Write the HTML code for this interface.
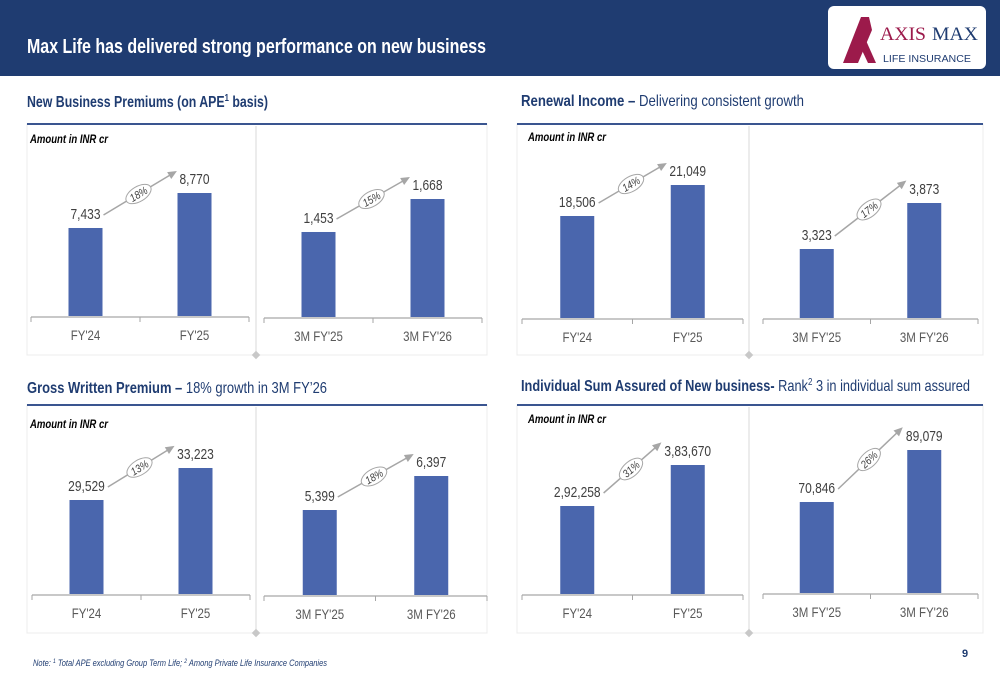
<!DOCTYPE html>
<html><head><meta charset="utf-8">
<style>
html,body{margin:0;padding:0;background:#fff;}
svg{display:block;font-family:"Liberation Sans Narrow","Liberation Sans",sans-serif;}
</style></head>
<body>
<svg id="s" width="1000" height="685" viewBox="0 0 1000 685" xmlns="http://www.w3.org/2000/svg">
  <rect x="0" y="0" width="1000" height="76" fill="#1f3c71"/>
  <text x="27" y="53" fill="#fff" font-size="20" font-weight="bold" textLength="459" lengthAdjust="spacingAndGlyphs">Max Life has delivered strong performance on new business</text>
  <g>
    <rect x="828" y="6" width="158" height="63" rx="6" fill="#fff"/>
    <polygon points="843,63 861,17 869,17 872,30 858,63" fill="#9c1a4b"/>
    <polygon points="864,36 876,63 868,63 860,46" fill="#9c1a4b"/>
    <text x="880" y="40" font-family="Liberation Serif,serif" font-size="19" fill="#9c1a4b" textLength="46" lengthAdjust="spacingAndGlyphs">AXIS</text>
    <text x="932" y="40" font-family="Liberation Serif,serif" font-size="19" fill="#1f3c71" textLength="46" lengthAdjust="spacingAndGlyphs">MAX</text>
    <text x="883" y="62" font-family="Liberation Sans,sans-serif" font-size="10" fill="#1f3c71" textLength="88" lengthAdjust="spacingAndGlyphs">LIFE INSURANCE</text>
  </g>
  <text x="27" y="107" fill="#1f3c71" font-size="16" font-weight="bold" textLength="241" lengthAdjust="spacingAndGlyphs">New Business Premiums (on APE<tspan font-size="10" dy="-6">1</tspan><tspan dy="6"> basis)</tspan></text>
  <text x="521" y="106" fill="#1f3c71" font-size="16" textLength="283" lengthAdjust="spacingAndGlyphs"><tspan font-weight="bold">Renewal Income –</tspan> Delivering consistent growth</text>
  <text x="27" y="393" fill="#1f3c71" font-size="16" textLength="300" lengthAdjust="spacingAndGlyphs"><tspan font-weight="bold">Gross Written Premium –</tspan> 18% growth in 3M FY’26</text>
  <text x="521" y="391" fill="#1f3c71" font-size="16" textLength="449" lengthAdjust="spacingAndGlyphs"><tspan font-weight="bold">Individual Sum Assured of New business-</tspan> Rank<tspan font-size="10" dy="-6">2</tspan><tspan dy="6"> 3 in individual sum assured</tspan></text>
  <text x="33" y="666" fill="#1f3c71" font-size="9" font-style="italic" textLength="294" lengthAdjust="spacingAndGlyphs">Note: <tspan font-size="6" dy="-3">1</tspan><tspan dy="3"> Total APE excluding Group Term Life; </tspan><tspan font-size="6" dy="-3">2</tspan><tspan dy="3"> Among Private Life Insurance Companies</tspan></text>
  <text x="962" y="657" fill="#1f3c71" font-size="11" font-weight="bold">9</text>
  <g id="charts"></g>
</svg>
<script>
// Data arrays
const catsFY = ["FY'24", "FY'25"];
const cats3M = ["3M FY'25", "3M FY'26"];
const nbpFY = [7433, 8770];
const nbpFYLabels = ["7,433", "8,770"];
const nbp3M = [1453, 1668];
const nbp3MLabels = ["1,453", "1,668"];
const renFY = [18506, 21049];
const renFYLabels = ["18,506", "21,049"];
const ren3M = [3323, 3873];
const ren3MLabels = ["3,323", "3,873"];
const gwpFY = [29529, 33223];
const gwpFYLabels = ["29,529", "33,223"];
const gwp3M = [5399, 6397];
const gwp3MLabels = ["5,399", "6,397"];
const isaFY = [292258, 383670];
const isaFYLabels = ["2,92,258", "3,83,670"];
const isa3M = [70846, 89079];
const isa3MLabels = ["70,846", "89,079"];
const growthLabels = ["18%", "15%", "14%", "17%", "13%", "18%", "31%", "26%"];

const NS = "http://www.w3.org/2000/svg";
const root = document.getElementById('charts');
function mk(tag, attrs, parent) {
  const e = document.createElementNS(NS, tag);
  for (const k in attrs) e.setAttribute(k, attrs[k]);
  (parent || root).appendChild(e);
  return e;
}
function narrow(t, f) {
  const L = t.getComputedTextLength();
  if (L > 0) { t.setAttribute('textLength', (L * f).toFixed(1)); t.setAttribute('lengthAdjust', 'spacingAndGlyphs'); }
  return L * f;
}

// Panel frames
const panels = [
  {x:27, y:124, w:460, h:231, name:'nbp-panel', amt:[30,143]},
  {x:517, y:124, w:466, h:231, name:'renewal-panel', amt:[528,141]},
  {x:27, y:405, w:460, h:228, name:'gwp-panel', amt:[30,428]},
  {x:517, y:405, w:466, h:228, name:'isa-panel', amt:[528,423]}
];
panels.forEach(p => {
  const g = mk('g', {});
  
  
  mk('rect', {x:p.x, y:p.y, width:p.w, height:p.h, fill:'none', stroke:'#ececec', 'stroke-width':1}, g);
  mk('line', {x1:p.x, x2:p.x+p.w, y1:p.y, y2:p.y, stroke:'#3a5590', 'stroke-width':2}, g);
  const mx = p.x + p.w/2 - 1;
  mk('line', {x1:mx, x2:mx, y1:p.y+2, y2:p.y+p.h, stroke:'#d9d9d9', 'stroke-width':1}, g);
  mk('rect', {x:mx-3, y:p.y+p.h-3, width:6, height:6, fill:'#c8c8c8', transform:`rotate(45 ${mx} ${p.y+p.h})`}, g);
  const t = mk('text', {x:p.amt[0], y:p.amt[1], 'font-size':11.5, 'font-style':'italic', 'font-weight':'bold', fill:'#000', textLength:78, lengthAdjust:'spacingAndGlyphs'}, g);
  t.textContent = 'Amount in INR cr';
});

function drawSub(name, cats, vals, labels, growth, ax0, ax1, base, lo, hi, hmax) {
  const g = mk('g', {});
  
  
  const y = v => base - (v - lo) / (hi - lo) * hmax;
  const w = ax1 - ax0;
  const cx = i => ax0 + w * (i * 2 + 1) / 4;
  const bw = 34;
  const axis = mk('g', {}, g);
  
  
  mk('line', {x1:ax0, x2:ax1, y1:base+1, y2:base+1, stroke:'#a6a6a6', 'stroke-width':1.2}, axis);
  [ax0, (ax0+ax1)/2, ax1].forEach(tx => mk('line', {x1:tx, x2:tx, y1:base+1, y2:base+6, stroke:'#a6a6a6', 'stroke-width':1}, axis));
  const tops = [], halfw = [];
  vals.forEach((v, i) => {
    const top = y(v);
    tops.push(top);
    const b = mk('rect', {x:cx(i)-bw/2, y:top, width:bw, height:base-top, fill:'#4a66ad'}, g);
    
    
    const vl = mk('text', {x:cx(i), y:top-9, 'text-anchor':'middle', 'font-size':15, fill:'#404040'}, g);
    
    
    vl.textContent = labels[i];
    halfw.push(narrow(vl, 0.8) / 2);
    const cl = mk('text', {x:cx(i), y:base+24, 'text-anchor':'middle', 'font-size':14, fill:'#595959'}, g);
    
    
    cl.textContent = cats[i];
    narrow(cl, 0.82);
  });
  // growth arrow
  const sx = cx(0) + halfw[0] + 3, sy = tops[0] - 13;
  const ex = cx(1) - halfw[1] - 6, ey = tops[1] - 20;
  const ag = mk('g', {}, g);
  
  
  mk('line', {x1:sx, y1:sy, x2:ex, y2:ey, stroke:'#a6a6a6', 'stroke-width':1.5}, ag);
  const ang = Math.atan2(ey - sy, ex - sx);
  const hx = ex + 4*Math.cos(ang), hy = ey + 4*Math.sin(ang);
  const p1x = ex - 5*Math.cos(ang) + 4*Math.sin(ang), p1y = ey - 5*Math.sin(ang) - 4*Math.cos(ang);
  const p2x = ex - 5*Math.cos(ang) - 4*Math.sin(ang), p2y = ey - 5*Math.sin(ang) + 4*Math.cos(ang);
  mk('polygon', {points:`${hx},${hy} ${p1x},${p1y} ${p2x},${p2y}`, fill:'#a6a6a6'}, ag);
  const mxp = (sx + ex) / 2, myp = (sy + ey) / 2;
  const deg = ang * 180 / Math.PI;
  mk('ellipse', {cx:mxp, cy:myp, rx:14, ry:7.5, fill:'#fff', stroke:'#a6a6a6', 'stroke-width':1, transform:`rotate(${deg} ${mxp} ${myp})`}, ag);
  const gt = mk('text', {x:mxp, y:myp+4, 'text-anchor':'middle', 'font-size':11, 'font-style':'italic', fill:'#404040', transform:`rotate(${deg} ${mxp} ${myp})`}, ag);
  
  
  gt.textContent = growth;
  narrow(gt, 0.85);
}

drawSub('nbp-annual-chart', catsFY, nbpFY, nbpFYLabels, growthLabels[0], 31, 249, 316, 4071, 8770, 123);
drawSub('nbp-quarter-chart', cats3M, nbp3M, nbp3MLabels, growthLabels[1], 264, 482, 317, 899, 1668, 118);
drawSub('renewal-annual-chart', catsFY, renFY, renFYLabels, growthLabels[2], 522, 743, 318, 10139, 21049, 133);
drawSub('renewal-quarter-chart', cats3M, ren3M, ren3MLabels, growthLabels[3], 763, 978, 318, 2498, 3873, 115);
drawSub('gwp-annual-chart', catsFY, gwpFY, gwpFYLabels, growthLabels[4], 32, 250, 594, 18678, 33223, 126);
drawSub('gwp-quarter-chart', cats3M, gwp3M, gwp3MLabels, growthLabels[5], 264, 487, 595, 2904, 6397, 119);
drawSub('isa-annual-chart', catsFY, isaFY, isaFYLabels, growthLabels[6], 522, 743, 594, 96056, 383670, 129);
drawSub('isa-quarter-chart', cats3M, isa3M, isa3MLabels, growthLabels[7], 763, 978, 593, 38937, 89079, 143);
</script>
</body></html>
